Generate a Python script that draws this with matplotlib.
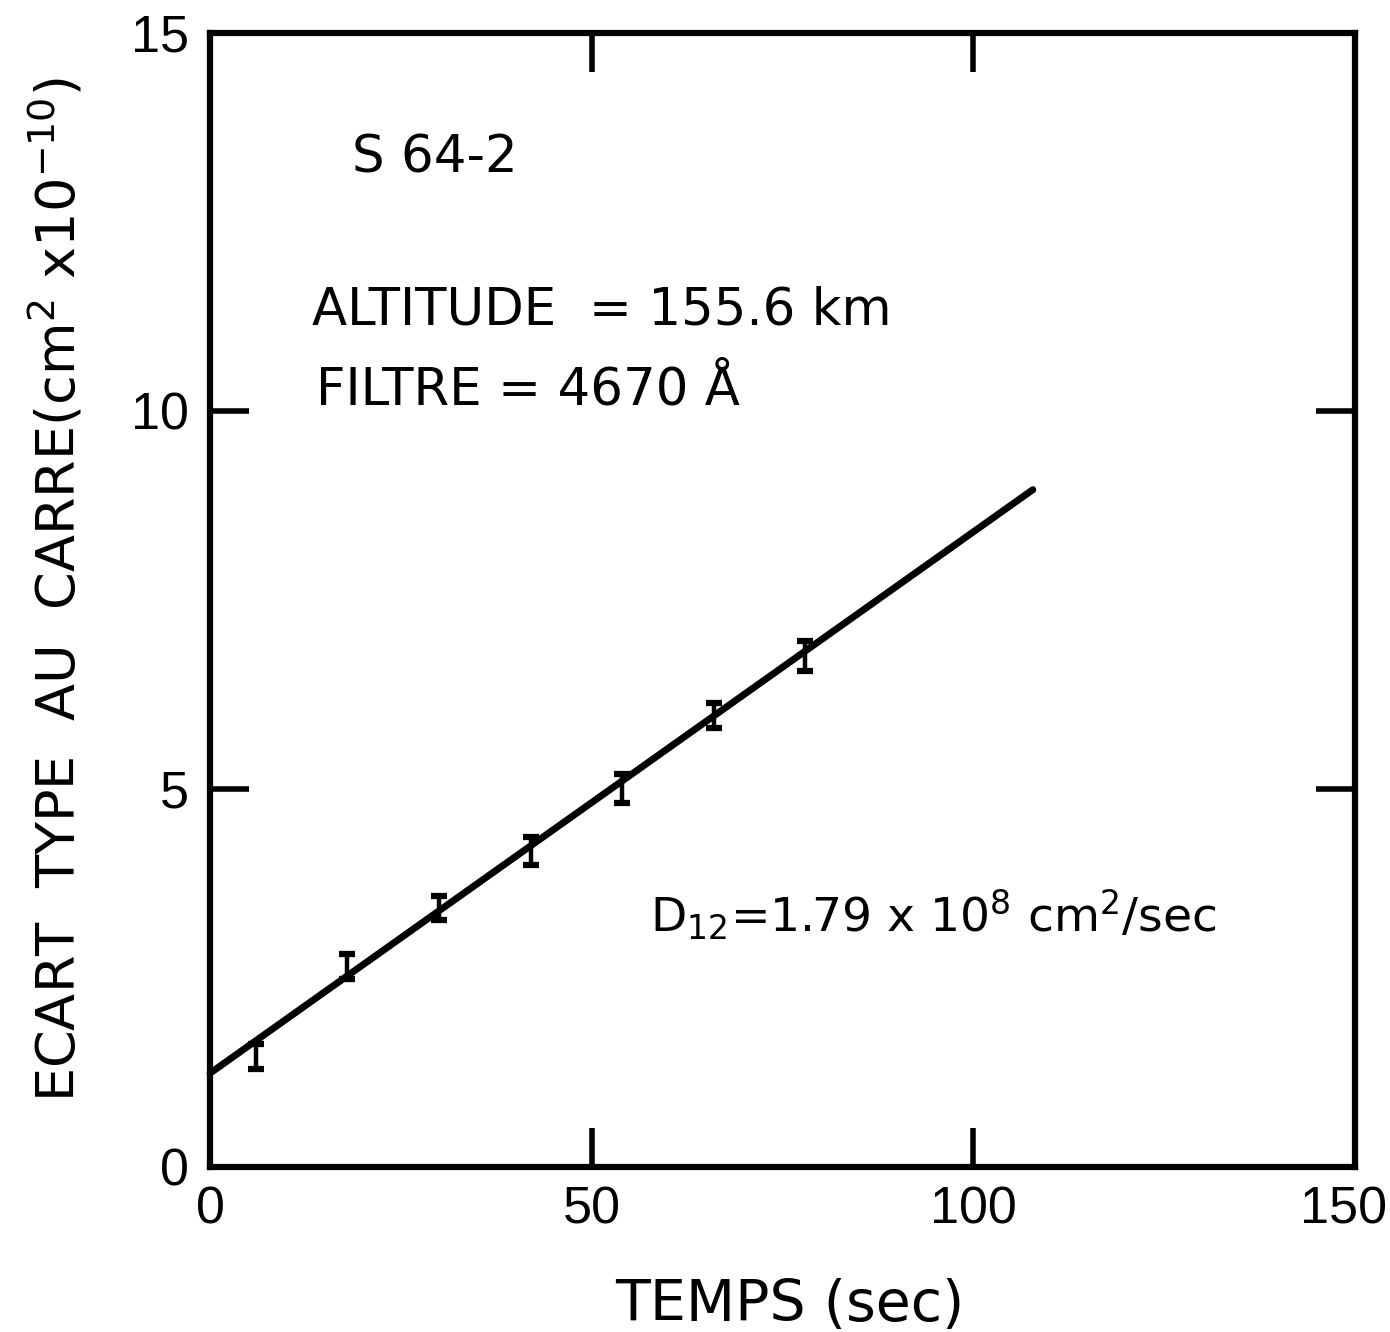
import matplotlib
matplotlib.use("Agg")
import matplotlib.pyplot as plt
from matplotlib import transforms
import numpy as np

plt.rcParams['font.family'] = ['DejaVu Sans']
plt.rcParams['mathtext.fontset'] = 'dejavusans'
plt.rcParams['mathtext.default'] = 'regular'

# Data
time_s = [6, 18, 30, 42, 54, 66, 78]
sigma2 = [1.46, 2.65, 3.43, 4.18, 5.01, 5.97, 6.76]
sigma2_err = [0.16, 0.17, 0.16, 0.185, 0.19, 0.17, 0.20]
fit_intercept = 1.24
fit_slope = 0.0716
fit_x = [0, 107.8]

xticks = [0, 50, 100, 150]
yticks = [0, 5, 10, 15]

fig = plt.figure(figsize=(13.9, 13.32), dpi=100)
ax = fig.add_axes([0.1511, 0.1239, 0.8237, 0.8514])

fx = np.array(fit_x)
ax.plot(fx, fit_intercept + fit_slope * fx, color='black', lw=5,
        solid_capstyle='round', clip_on=False)
ax.errorbar(time_s, sigma2, yerr=sigma2_err, fmt='none', ecolor='black',
            elinewidth=3.2, capsize=6, capthick=4.5)

ax.set_xlim(0, 150)
ax.set_ylim(0, 15)
ax.set_xticks(xticks)
ax.set_yticks(yticks)
ax.tick_params(direction='in', length=28, width=4, top=True, right=True,
               labelsize=37.5)
ax.tick_params(axis='x', pad=13)
ax.tick_params(axis='y', pad=15)
for lab in ax.get_xticklabels() + ax.get_yticklabels():
    lab.set_fontfamily(['Liberation Sans', 'DejaVu Sans'])
# last x tick label sits slightly left of its tick in the reference
last = ax.get_xticklabels()[-1]
last.set_transform(last.get_transform() +
                   transforms.ScaledTranslation(-11 / 100, 0, fig.dpi_scale_trans))
for s in ax.spines.values():
    s.set_linewidth(4.5)

ax.set_xlabel('TEMPS (sec)', fontsize=41)
ax.xaxis.set_label_coords(0.506, -0.098)
ax.set_ylabel('ECART  TYPE  AU  CARRE(cm$^{2}$ x10$^{-10}$)', fontsize=39)
ax.yaxis.set_label_coords(-0.108, 0.509)

ax.text(18.6, 13.15, 'S 64-2', fontsize=37, va='baseline', ha='left')
ax.text(13.4, 11.14, 'ALTITUDE  = 155.6 km', fontsize=37, va='baseline', ha='left')
ax.text(13.9, 10.08, 'FILTRE = 4670 Å', fontsize=37, va='baseline', ha='left')
ax.text(57.6, 3.11, 'D$_{12}$=1.79 x 10$^{8}$ cm$^{2}$/sec', fontsize=34, va='baseline', ha='left')

fig.savefig('out.png', dpi=100)
